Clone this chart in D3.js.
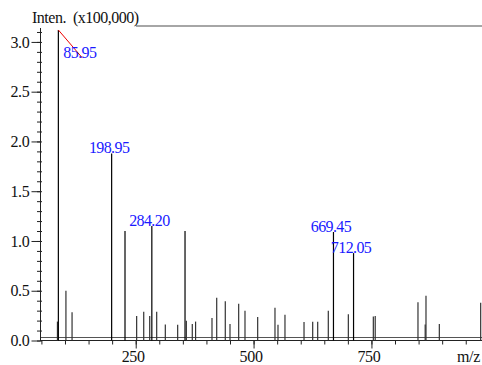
<!DOCTYPE html>
<html>
<head>
<meta charset="utf-8">
<script src="https://cdn.jsdelivr.net/npm/d3@7"></script>
<style>
    html, body { margin: 0; padding: 0; background: #fff; }
</style>
</head>
<body>
<div id="chart"></div>
<script>
// 质谱峰数据 (m/z, 强度 x100,000)
const peakMz = [84, 85.95, 102, 115, 198.95, 227.3, 252, 267, 279.7, 284.20, 294.5, 312.8,
    339, 354.6, 357.4, 370, 377, 411.8, 421.8, 440, 450, 468.4, 481.8, 508.7, 545.4,
    551.8, 566.6, 607, 625.4, 636, 658.5, 669.45, 701, 712.05, 754, 758, 848.7, 864,
    865.7, 894, 981.7];
const peakIntensity = [0.19, 3.12, 0.50, 0.285, 1.88, 1.10, 0.245, 0.29, 0.245, 1.15, 0.29, 0.16,
    0.158, 1.10, 0.198, 0.165, 0.19, 0.225, 0.43, 0.395, 0.165, 0.37, 0.30, 0.235, 0.33,
    0.158, 0.258, 0.185, 0.188, 0.188, 0.30, 1.09, 0.265, 0.878, 0.24, 0.245, 0.385, 0.16,
    0.45, 0.165, 0.38];

// 标注的峰
const labelMz = [85.95, 198.95, 284.20, 669.45, 712.05];
const labelText = ['85.95', '198.95', '284.20', '669.45', '712.05'];

// 坐标轴刻度
const yMajorTicks = [0, 0.5, 1.0, 1.5, 2.0, 2.5, 3.0];
const xMajorTicks = [250, 500, 750];

const width = 482;
const height = 365;
const FONT = '"Liberation Serif", "DejaVu Serif", serif';

const peaks = peakMz.map((m, i) => ({ mz: m, value: peakIntensity[i] }));
const labels = labelMz.map((m, i) => ({
    mz: m,
    text: labelText[i],
    value: peakIntensity[peakMz.indexOf(m)]
}));

const svg = d3.select('#chart')
    .append('svg')
    .attr('width', width)
    .attr('height', height);

const x = d3.scaleLinear().domain([47, 984.5]).range([40, 482]);
const y = d3.scaleLinear().domain([0, 3.16]).range([340.5, 26]);

// 顶部边框线
svg.append('line')
    .attr('x1', 136).attr('x2', width)
    .attr('y1', y(3.16)).attr('y2', y(3.16))
    .attr('stroke', '#888')
    .attr('stroke-width', 1.5);

// 基线
svg.append('line')
    .attr('x1', 40).attr('x2', width)
    .attr('y1', 337.5).attr('y2', 337.5)
    .attr('stroke', '#555')
    .attr('stroke-width', 1);

// Y 轴 - 主刻度
const yAxis = svg.append('g')
    .attr('transform', 'translate(40.5,0)')
    .call(d3.axisLeft(y)
        .tickValues(yMajorTicks)
        .tickSize(9)
        .tickPadding(2)
        .tickFormat(d3.format('.1f')));
yAxis.select('.domain').remove();
yAxis.selectAll('text')
    .style('font-family', FONT)
    .style('font-size', '16px')
    .attr('letter-spacing', '-0.3px')
    .attr('fill', '#111');
yAxis.selectAll('line').attr('stroke', '#222');

// Y 轴 - 次刻度
const yMinor = svg.append('g')
    .attr('transform', 'translate(42,0)')
    .call(d3.axisLeft(y)
        .tickValues(d3.range(0, 3.15, 0.1))
        .tickSize(5)
        .tickFormat(''));
yMinor.select('.domain').remove();
yMinor.selectAll('line').attr('stroke', '#222');

svg.append('line')
    .attr('x1', 40.5).attr('x2', 40.5)
    .attr('y1', 28).attr('y2', 341)
    .attr('stroke', '#222');

// X 轴 - 次刻度
const xMinor = svg.append('g')
    .attr('transform', 'translate(0,340.5)')
    .call(d3.axisBottom(x)
        .tickValues(d3.range(50, 1000, 50))
        .tickSize(4)
        .tickFormat(''));
xMinor.select('.domain').remove();
xMinor.selectAll('line').attr('stroke', '#222');

// X 轴 - 主刻度
const xAxis = svg.append('g')
    .attr('transform', 'translate(0,340.5)')
    .call(d3.axisBottom(x)
        .tickValues(xMajorTicks)
        .tickSize(8)
        .tickPadding(2)
        .tickFormat(d3.format('d')));
xAxis.select('.domain').remove();
xAxis.selectAll('line').attr('stroke', '#222');
xAxis.selectAll('text')
    .style('font-family', FONT)
    .style('font-size', '16px')
    .attr('letter-spacing', '-0.3px')
    .attr('fill', '#111')
    .attr('dx', -3);

svg.append('line')
    .attr('x1', 40).attr('x2', width)
    .attr('y1', 340.5).attr('y2', 340.5)
    .attr('stroke', '#222');

// 峰线
svg.append('g')
    .selectAll('line')
    .data(peaks)
    .enter().append('line')
    .attr('x1', d => x(d.mz))
    .attr('x2', d => x(d.mz))
    .attr('y1', y(0))
    .attr('y2', d => y(d.value))
    .attr('stroke', d => d.value > 0.8 ? '#000' : '#333')
    .attr('stroke-width', 1.2);

// 峰标注 (最高峰标签偏移并用红色引线连接)
const firstLabel = labels[0];
svg.append('line')
    .attr('x1', x(firstLabel.mz))
    .attr('y1', y(firstLabel.value))
    .attr('x2', x(firstLabel.mz) + 24)
    .attr('y2', y(firstLabel.value) + 28)
    .attr('stroke', '#e00')
    .attr('stroke-width', 1);

svg.append('g')
    .selectAll('text')
    .data(labels)
    .enter().append('text')
    .attr('x', (d, i) => i === 0 ? x(d.mz) + 21.5 : x(d.mz) - 2.5)
    .attr('y', (d, i) => i === 0 ? y(d.value) + 28 : y(d.value))
    .attr('text-anchor', 'middle')
    .style('font-family', FONT)
    .style('font-size', '16px')
    .attr('letter-spacing', '-0.6px')
    .attr('fill', '#1a1aff')
    .text(d => d.text);

// 轴标题
svg.append('text')
    .attr('x', 32)
    .attr('y', 22.5)
    .style('font-family', FONT)
    .style('font-size', '16px')
    .attr('letter-spacing', '-0.5px')
    .attr('fill', '#111')
    .style('white-space', 'pre')
    .text('Inten.  (x100,000)');

svg.append('text')
    .attr('x', 480)
    .attr('y', 362)
    .attr('text-anchor', 'end')
    .style('font-family', FONT)
    .style('font-size', '16px')
    .attr('letter-spacing', '-0.3px')
    .attr('fill', '#111')
    .text('m/z');
</script>
</body>
</html>
